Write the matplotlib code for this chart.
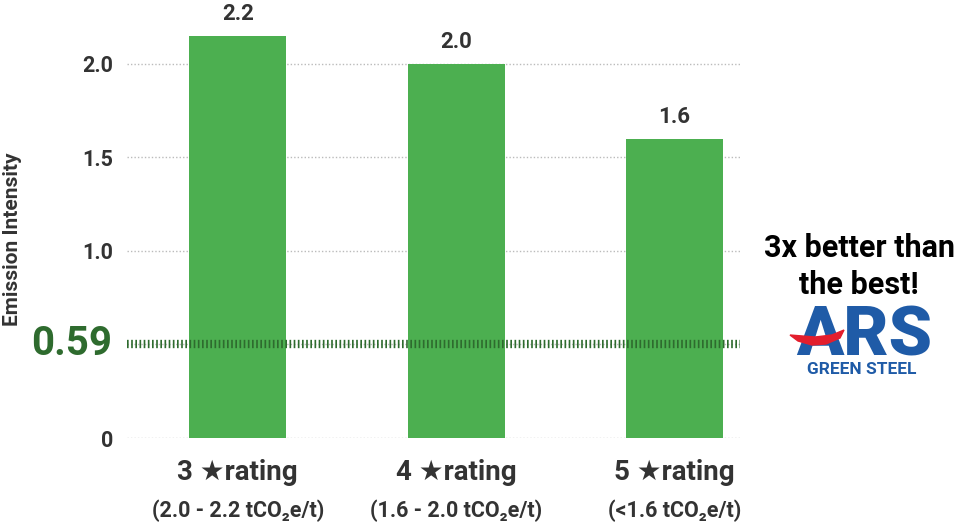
import numpy as np
import matplotlib
matplotlib.use("Agg")
import matplotlib.pyplot as plt
from matplotlib.patches import Polygon

plt.rcParams['font.family'] = ['Roboto', 'DejaVu Sans']

# Data
ratings = ["3 \u2605rating", "4 \u2605rating", "5 \u2605rating"]
ranges = ["(2.0 - 2.2 tCO\u2082e/t)", "(1.6 - 2.0 tCO\u2082e/t)", "(<1.6 tCO\u2082e/t)"]
intensity = [2.15, 2.0, 1.6]
bar_labels = ["2.2", "2.0", "1.6"]
ars_level = 0.5          # where the dashed line sits on the axis
ars_label = "0.59"
yticks = [0, 1.0, 1.5, 2.0]
ytick_labels = ["0", "1.0", "1.5", "2.0"]

BAR = '#4caf50'
DARK_GREEN = '#2e6b2e'
TXT = '#333333'
BLUE = '#1f5ba7'
RED = '#e31e2d'

fig = plt.figure(figsize=(9.56, 5.24), dpi=100)
ax = fig.add_axes([127 / 956, 0.164, 613 / 956, 0.836])

x = np.arange(len(intensity))
ax.bar(x, intensity, width=0.445, color=BAR, zorder=2)
for xi, v, lab in zip(x, intensity, bar_labels):
    ax.text(xi, v + 0.055, lab, ha='center', va='bottom', fontsize=16,
            fontweight='bold', color=TXT)

# dotted gridlines
for yv in yticks + [ars_level]:
    ax.axhline(yv, color='#bbbbbb', lw=1.0, ls=(0, (1, 1.5)), zorder=1)

# the ARS level line: thick, made of thin vertical ticks
ax.axhline(ars_level, color=DARK_GREEN, lw=6, zorder=3,
           ls=(0, (0.2, 0.3)))
ax.text(-0.024, ars_level, ars_label, transform=ax.get_yaxis_transform(),
        ha='right', va='center', fontsize=29, fontweight='bold',
        color=DARK_GREEN)

ax.set_xlim(-0.507, 2.30)
ax.set_ylim(0, 2.34)
ax.set_yticks(yticks)
ax.set_yticklabels(ytick_labels, fontsize=15.5, fontweight='bold', color=TXT)
ax.tick_params(axis='y', length=0, pad=10)
ax.set_xticks([])
for sp in ax.spines.values():
    sp.set_visible(False)

# category labels under the bars
for xi, r, rg in zip(x, ratings, ranges):
    ax.text(xi, -0.078, r, transform=ax.get_xaxis_transform(), ha='center',
            va='center', fontsize=20, fontweight='bold', color=TXT)
    ax.text(xi, -0.165, rg, transform=ax.get_xaxis_transform(), ha='center',
            va='center', fontsize=15.5, fontweight='bold', color=TXT)

fig.text(13 / 956, 1 - 239 / 524, "Emission Intensity", rotation=90,
         ha='center', va='center', fontsize=15, fontweight='bold', color=TXT)

# callout on the right
fig.text(859 / 956, 1 - 248 / 524, "3x better than", ha='center', va='center',
         fontsize=22, fontweight='bold', color='black')
fig.text(859 / 956, 1 - 285 / 524, "the best!", ha='center', va='center',
         fontsize=22, fontweight='bold', color='black')
fig.text(864 / 956, 1 - 356 / 524, "ARS", ha='center', va='baseline',
         fontsize=50, fontweight='black', color=BLUE)
fig.text(862 / 956, 1 - 374 / 524, "GREEN STEEL", ha='center', va='baseline',
         fontsize=12.5, fontweight='bold', color=BLUE)
sw = np.array([(790, 335), (815, 337), (832, 335), (844, 330),
               (840, 338), (826, 344), (812, 345), (798, 341)], float)
sw[:, 0] /= 956
sw[:, 1] = 1 - sw[:, 1] / 524
fig.add_artist(Polygon(sw, closed=True, color=RED, zorder=5,
                       transform=fig.transFigure))

fig.savefig("out.png", dpi=100)
